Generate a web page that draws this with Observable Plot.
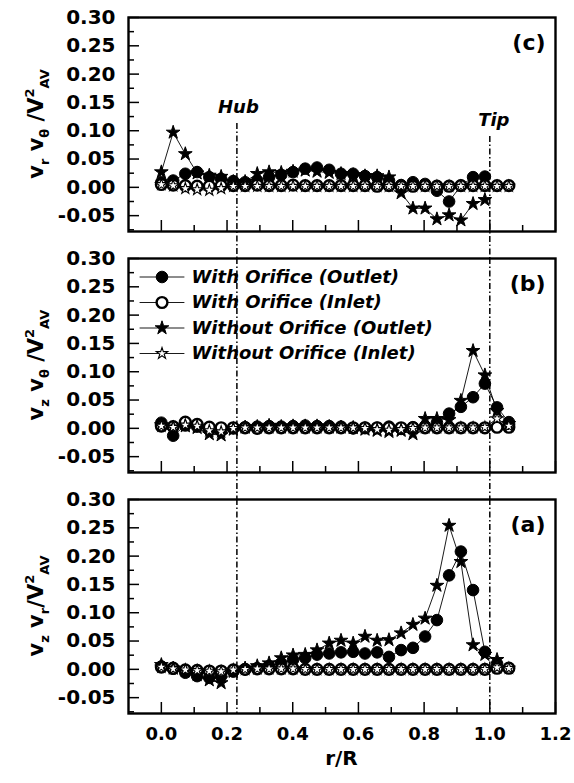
<!DOCTYPE html>
<html><head><meta charset="utf-8">
<script src="https://cdn.jsdelivr.net/npm/d3@7"></script>
<script src="https://cdn.jsdelivr.net/npm/@observablehq/plot@0.6"></script>
<style>
body{margin:0;background:#fff;}
#chart svg{overflow:visible;}
</style>
</head><body><div id="chart"></div>
<script>
// ---------- data ----------
const rR = [0, 0.036, 0.073, 0.109, 0.146, 0.182, 0.219, 0.255, 0.292, 0.328, 0.365, 0.401, 0.438, 0.474, 0.511,
            0.547, 0.584, 0.620, 0.657, 0.693, 0.730, 0.766, 0.803, 0.839, 0.876, 0.912, 0.949, 0.985, 1.022, 1.058];

const seriesNames = ["With Orifice (Outlet)", "With Orifice (Inlet)", "Without Orifice (Outlet)", "Without Orifice (Inlet)"];
const panelIds = ["c", "b", "a"];

// panel (c): vr v_theta / V_AV^2
const c_withOut = [0.009, 0.012, 0.024, 0.027, 0.018, 0.015, 0.011, 0.009, 0.012, 0.018, 0.022, 0.027, 0.033, 0.035, 0.031,
                   0.024, 0.024, 0.020, 0.018, 0.012, 0.004, 0.009, 0.006, -0.006, -0.025, 0.003, 0.018, 0.019];
const c_withIn  = [0.005, 0.004, 0.003, 0.002, 0.002, 0.003, 0.003, 0.003, 0.004, 0.003, 0.003, 0.004, 0.003, 0.003, 0.003,
                   0.003, 0.003, 0.003, 0.002, 0.003, 0.002, 0.002, 0.003, 0.002, 0.002, 0.003, 0.003, 0.003, 0.003, 0.003];
const c_woOut   = [0.027, 0.097, 0.059, 0.025, 0.021, 0.019, 0.010, 0.010, 0.024, 0.027, 0.026, 0.028, 0.030, 0.028, 0.026,
                   0.024, 0.022, 0.020, 0.020, 0.018, -0.010, -0.037, -0.037, -0.056, -0.049, -0.058, -0.029, -0.022];
const c_woIn    = [0.005, 0.003, -0.002, -0.004, -0.005, -0.002, 0.002, 0.002, 0.002, 0.002, 0.002, 0.002, 0.002, 0.002, 0.002,
                   0.002, 0.002, 0.002, 0.002, 0.002, 0.002, 0.002, 0.002, 0.002, 0.002, 0.002, 0.002, 0.002, 0.002, 0.002];

// panel (b): vz v_theta / V_AV^2
const b_withOut = [0.010, -0.013, 0.005, 0.003, -0.003, -0.005, 0.000, 0.002, 0.003, 0.004, 0.003, 0.004, 0.005, 0.004, 0.004,
                   0.003, 0.000, 0.001, 0.001, 0.003, -0.001, 0.002, 0.004, 0.010, 0.026, 0.038, 0.055, 0.079, 0.037, 0.011];
const b_withIn  = [0.004, 0.003, 0.011, 0.007, 0.002, 0.001, 0.001, 0.001, 0.000, 0.001, 0.001, 0.001, 0.001, 0.001, 0.001,
                   0.001, 0.001, 0.001, 0.001, 0.001, 0.001, 0.001, 0.001, 0.001, 0.001, 0.001, 0.001, 0.001, 0.002, 0.002];
const b_woOut   = [0.006, 0.002, 0.004, 0.001, -0.010, -0.012, -0.002, 0.002, 0.003, 0.005, 0.003, 0.004, 0.004, 0.004, 0.003,
                   0.002, 0.001, -0.002, -0.004, -0.006, -0.004, -0.010, 0.017, 0.017, 0.015, 0.049, 0.137, 0.094, 0.031, 0.008];
const b_woIn    = [0.004, 0.002, 0.006, 0.004, -0.004, -0.006, 0.000, 0.001, 0.001, 0.001, 0.001, 0.001, 0.001, 0.001, 0.001,
                   0.001, 0.001, 0.000, -0.002, -0.003, -0.002, 0.000, 0.001, 0.001, 0.001, 0.001, 0.001, 0.002, 0.017, 0.004];

// panel (a): vz vr / V_AV^2
const a_withOut = [0.005, 0.001, -0.006, -0.012, -0.015, -0.012, -0.004, 0.000, 0.002, 0.006, 0.011, 0.017, 0.020, 0.026, 0.028,
                   0.030, 0.031, 0.028, 0.030, 0.022, 0.034, 0.038, 0.058, 0.087, 0.166, 0.208, 0.140, 0.031, 0.010];
const a_withIn  = [0.004, 0.002, -0.001, -0.002, -0.003, -0.003, -0.001, 0.000, 0.001, 0.001, 0.001, 0.001, 0.000, 0.000, 0.000,
                   0.000, 0.000, 0.000, 0.000, 0.000, 0.000, 0.000, 0.000, 0.000, 0.000, 0.000, 0.000, 0.000, 0.002, 0.002];
const a_woOut   = [0.008, 0.002, -0.003, -0.010, -0.019, -0.024, -0.004, 0.002, 0.006, 0.011, 0.020, 0.025, 0.026, 0.034, 0.046,
                   0.051, 0.046, 0.058, 0.051, 0.052, 0.064, 0.079, 0.090, 0.148, 0.254, 0.190, 0.043, 0.026, 0.017];
const a_woIn    = [0.004, 0.001, -0.001, -0.002, -0.003, -0.004, -0.001, 0.000, 0.001, 0.001, 0.001, 0.001, 0.000, 0.000, 0.000,
                   0.000, 0.000, 0.000, 0.000, 0.000, 0.000, 0.000, 0.000, 0.000, 0.000, 0.000, 0.000, 0.000, 0.003, 0.002];

const yMajor = [-0.05, 0.00, 0.05, 0.10, 0.15, 0.20, 0.25, 0.30];
const yMinor = [-0.075, -0.025, 0.025, 0.075, 0.125, 0.175, 0.225, 0.275];
const xMajor = [0.0, 0.2, 0.4, 0.6, 0.8, 1.0, 1.2];
const xMinor = [0.1, 0.3, 0.5, 0.7, 0.9, 1.1];
const hubTip = [{name: "Hub", x: 0.23}, {name: "Tip", x: 1.0}];

// ---------- build rows ----------
const panelSeries = {
  c: [c_withOut, c_withIn, c_woOut, c_woIn],
  b: [b_withOut, b_withIn, b_woOut, b_woIn],
  a: [a_withOut, a_withIn, a_woOut, a_woIn]
};
const rows = [];
for (const p of panelIds) {
  panelSeries[p].forEach((vals, s) => {
    vals.forEach((v, i) => rows.push({panel: p, series: seriesNames[s], x: rR[i], y: v}));
  });
}

const FONT = "DejaVu Sans";
const styles = [
  {symbol: "circle", fill: "black", stroke: "black", r: 5.8, strokeWidth: 1},
  {symbol: "circle", fill: "white", stroke: "black", r: 5.4, strokeWidth: 2.4},
  {symbol: "star",   fill: "black", stroke: "black", r: 4.3, strokeWidth: 1},
  {symbol: "star",   fill: "white", stroke: "black", r: 3.6, strokeWidth: 1.1}
];

const dash = "6,2.5,1.5,2.5";
const marks = [];

// reference lines (Hub / Tip)
for (const p of panelIds) {
  hubTip.forEach(h => {
    const insetTop = p === "c" ? (h.name === "Hub" ? 106 : 119) : 0;
    const insetBottom = p === "a" ? 0 : -28;
    marks.push(Plot.ruleX([{panel: p, x: h.x}], {x: "x", fy: "panel", stroke: "black", strokeWidth: 1.5,
      strokeDasharray: dash, insetTop, insetBottom}));
  });
}
// Hub / Tip labels
marks.push(Plot.text([{panel: "c", ...hubTip[0]}], {x: "x", fy: "panel", text: "name", frameAnchor: "top", dy: 90, dx: 1.5,
  lineAnchor: "middle", fontSize: 18, fontWeight: "bold", fontStyle: "italic", fontFamily: FONT, fill: "black"}));
marks.push(Plot.text([{panel: "c", ...hubTip[1]}], {x: "x", fy: "panel", text: "name", frameAnchor: "top", dy: 103, dx: 4,
  lineAnchor: "middle", fontSize: 18, fontWeight: "bold", fontStyle: "italic", fontFamily: FONT, fill: "black"}));

// data lines
marks.push(Plot.line(rows, {x: "x", y: "y", z: d => d.panel + d.series, fy: "panel", stroke: "black", strokeWidth: 0.9}));
// data dots
seriesNames.forEach((s, k) => {
  marks.push(Plot.dot(rows.filter(d => d.series === s), {x: "x", y: "y", fy: "panel", ...styles[k]}));
});

// legend in panel (b)
const lineShape = {draw(context, l) { context.moveTo(0, -l / 2); context.lineTo(0, l / 2); }};
seriesNames.forEach((s, k) => {
  const dy = 18.5 + k * 25.5;
  const item = [{panel: "b", label: s}];
  marks.push(Plot.vector(item, {fy: "panel", frameAnchor: "top-left", dx: 33.5, dy, length: 44, rotate: 90,
    anchor: "start", shape: lineShape, stroke: "black", strokeWidth: 0.9}));
  marks.push(Plot.dot(item, {fy: "panel", frameAnchor: "top-left", dx: 33.5, dy, ...styles[k]}));
  marks.push(Plot.text(item, {fy: "panel", frameAnchor: "top-left", dx: 63, dy, text: "label", textAnchor: "start",
    lineAnchor: "middle", fontSize: 18, fontWeight: "bold", fontStyle: "italic", fontFamily: FONT, fill: "black"}));
});

// panel letters
marks.push(Plot.text(panelIds.map(p => ({panel: p, t: `(${p})`})), {fy: "panel", text: "t", frameAnchor: "top-right",
  dx: -10, dy: 25, textAnchor: "end", lineAnchor: "middle", fontSize: 22, fontWeight: "bold", fontFamily: FONT, fill: "black"}));

// axes
marks.push(Plot.axisY({ticks: yMajor, tickSize: -11, tickPadding: 24, tickFormat: d => d.toFixed(2), label: null,
  fontSize: 20, fontWeight: "bold", fontFamily: FONT, strokeWidth: 1.5, fill: "black", stroke: "black"}));
marks.push(Plot.axisY({ticks: yMinor, tickSize: -6, fill: "none", label: null, strokeWidth: 1.5, stroke: "black"}));
marks.push(Plot.axisX({ticks: xMajor, tickSize: -11, fill: "none", label: null, facetAnchor: null, strokeWidth: 1.5, stroke: "black"}));
marks.push(Plot.axisX({ticks: xMinor, tickSize: -6, fill: "none", label: null, facetAnchor: null, strokeWidth: 1.5, stroke: "black"}));
marks.push(Plot.axisX({ticks: xMajor, tickSize: 0, tickPadding: 14, tickFormat: d => d.toFixed(1), label: null,
  fontSize: 18, fontWeight: "bold", fontFamily: FONT, fill: "black"}));

marks.push(Plot.frame({stroke: "black", strokeWidth: 2.4}));

const plot = Plot.plot({
  width: 574,
  height: 783,
  marginLeft: 128,
  marginRight: 19,
  marginTop: 16,
  marginBottom: 70,
  style: {background: "white", color: "black", fontFamily: FONT},
  x: {domain: [-0.1, 1.2]},
  y: {domain: [-0.078, 0.30]},
  fy: {domain: panelIds, paddingInner: 0.114, paddingOuter: 0, axis: null},
  marks
});
document.getElementById("chart").appendChild(plot);

// ---------- axis titles with sub/superscripts ----------
const svg = d3.select(plot);
const fy = plot.scale("fy");
const titles = {
  c: [["v", 0], ["r", 1], [" v", 0], ["θ", 1], [" /V", 0], ["2", 2], ["AV", 1]],
  b: [["v", 0], ["z", 1], [" v", 0], ["θ", 1], [" /V", 0], ["2", 2], ["AV", 1]],
  a: [["v", 0], ["z", 1], [" v", 0], ["r", 1], ["/V", 0], ["2", 2], ["AV", 1]]
};
for (const p of panelIds) {
  const cy = fy.apply(p) + fy.bandwidth / 2;
  const t = svg.append("text")
    .attr("transform", `translate(43,${cy}) rotate(-90)`)
    .attr("text-anchor", "middle")
    .attr("font-family", FONT).attr("font-weight", "bold").attr("fill", "black");
  let cur = 0;
  for (const [str, kind] of titles[p]) {
    const target = kind === 1 ? 6 : kind === 2 ? -9 : 0;
    t.append("tspan").attr("dy", target - cur).attr("font-size", kind === 0 ? 21 : 13).text(str);
    cur = target;
  }
}
// x title
const xs = plot.scale("x");
svg.append("text")
  .attr("x", (xs.apply(-0.1) + xs.apply(1.2)) / 2).attr("y", 765)
  .attr("text-anchor", "middle").attr("font-family", FONT).attr("font-weight", "bold")
  .attr("font-size", 20).attr("fill", "black").text("r/R");
</script></body></html>
